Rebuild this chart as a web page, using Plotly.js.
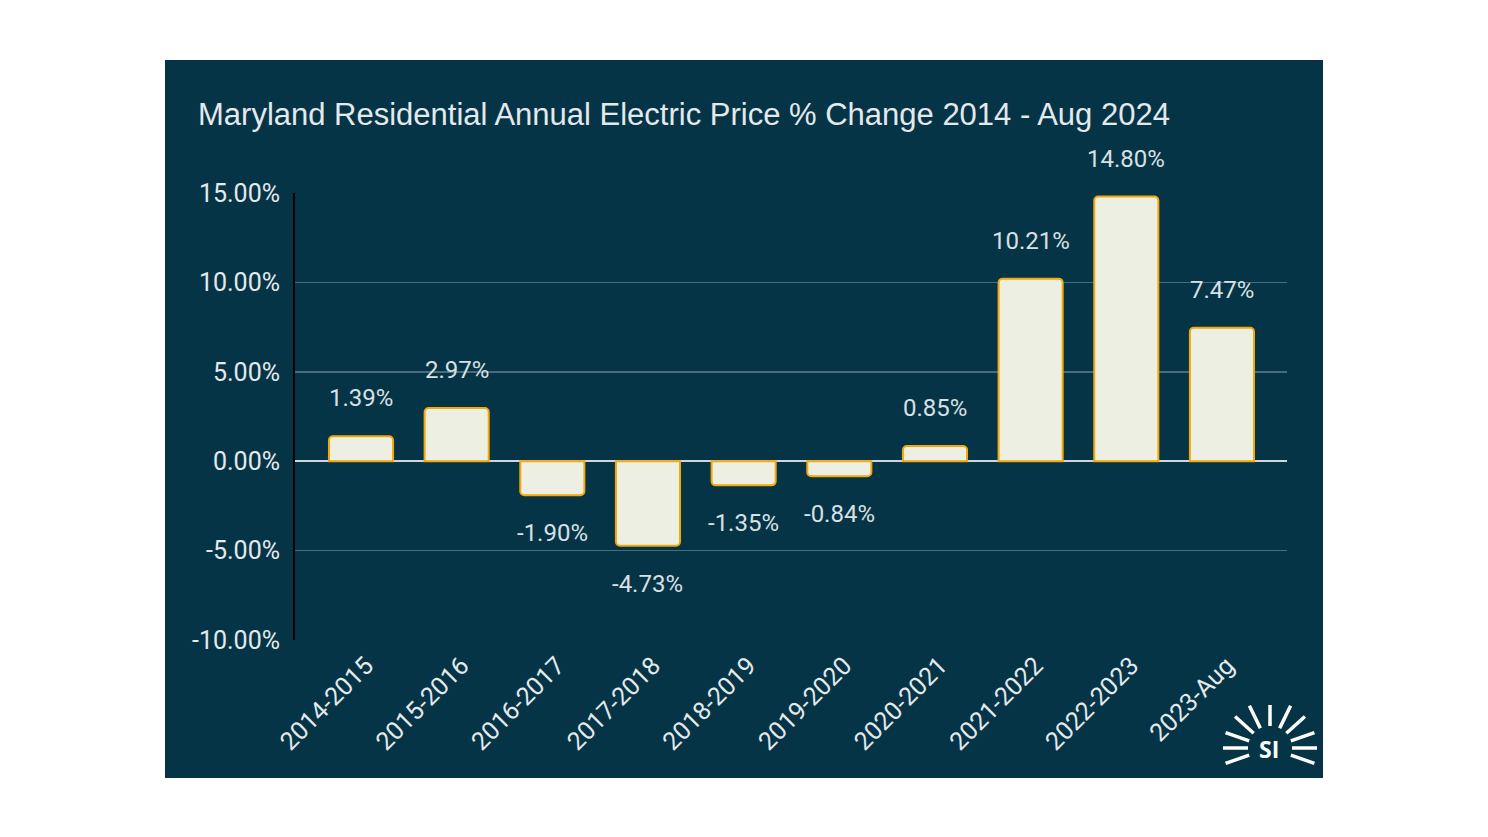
<!DOCTYPE html>
<html>
<head>
<meta charset="utf-8">
<script src="https://cdn.plot.ly/plotly-3.0.1.min.js"></script>
<style>
  html, body { margin: 0; padding: 0; background: #ffffff; width: 1488px; height: 837px; overflow: hidden; }
  #panel { position: absolute; left: 165px; top: 60px; width: 1158px; height: 718px; background: #053447; }
  #chart { width: 1158px; height: 718px; }
</style>
</head>
<body>
<div id="panel"><div id="chart"></div></div>
<script>
// ---- data ----
const categories = ['2014-2015','2015-2016','2016-2017','2017-2018','2018-2019','2019-2020','2020-2021','2021-2022','2022-2023','2023-Aug'];
const pctChange = [1.39, 2.97, -1.90, -4.73, -1.35, -0.84, 0.85, 10.21, 14.80, 7.47];
const valueLabels = ['1.39%','2.97%','-1.90%','-4.73%','-1.35%','-0.84%','0.85%','10.21%','14.80%','7.47%'];
const yTickVals = [-10, -5, 0, 5, 10, 15];
const yTickText = ['-10.00%','-5.00%','0.00%','5.00%','10.00%','15.00%'];
const chartTitle = 'Maryland Residential Annual Electric Price % Change 2014 - Aug 2024';

// ---- layout helpers (plot area inside the panel) ----
const M = {l: 130, r: 36, t: 133, b: 138};
const W = 1158, H = 718;
const PW = W - M.l - M.r, PH = H - M.t - M.b;
// page pixel -> paper coords
const px = x => (x - 165 - M.l) / PW;
const py = y => (H - M.b - (y - 60)) / PH;

const textColor = '#e4e9eb';
const labelColor = '#d9e0e3';

const trace = {
  type: 'bar',
  x: categories,
  y: pctChange,
  width: 0.67,
  marker: { color: '#eeefe3', line: { color: '#f4a708', width: 2 }, cornerradius: 4 },
  hoverinfo: 'skip'
};

const annotations = categories.map((c, i) => ({
  x: c, y: pctChange[i], xref: 'x', yref: 'y',
  text: valueLabels[i], showarrow: false,
  yshift: pctChange[i] >= 0 ? 38 : -38,
  font: { family: 'Roboto', size: 24, color: labelColor }
}));

// logo "SI" with rays
const cx = 1270, cy = 748;
const rayAngles = [90, 116, 138, 161, 180, 199, 64, 42, 19, 0, -19];
const shapes = rayAngles.map(a => {
  const rad = a * Math.PI / 180;
  const r0 = 22, r1 = (a === 90) ? 43 : 47;
  return {
    type: 'line', xref: 'paper', yref: 'paper',
    x0: px(cx + r0 * Math.cos(rad)), y0: py(cy - r0 * Math.sin(rad)),
    x1: px(cx + r1 * Math.cos(rad)), y1: py(cy - r1 * Math.sin(rad)),
    line: { color: '#ffffff', width: 3.5 }
  };
});
annotations.push({
  xref: 'paper', yref: 'paper', x: px(cx - 1), y: py(cy + 1),
  text: '<b>SI</b>', showarrow: false, xanchor: 'center', yanchor: 'middle',
  font: { family: 'Open Sans', size: 23, color: '#ffffff' }
});

const layout = {
  width: W, height: H,
  margin: M,
  paper_bgcolor: '#053447',
  plot_bgcolor: 'rgba(0,0,0,0)',
  showlegend: false,
  title: {
    text: chartTitle,
    xref: 'container', yref: 'container',
    x: 33 / W, xanchor: 'left',
    y: 1 - 54 / H, yanchor: 'middle',
    font: { family: 'Liberation Sans', size: 31, color: textColor }
  },
  xaxis: {
    type: 'category',
    range: [-0.69, 9.68],
    tickangle: -45,
    showgrid: false, showline: false, zeroline: false,
    ticks: '',
    ticklabelstandoff: 5, ticklabelshift: 5,
    tickfont: { family: 'Roboto', size: 25, color: textColor },
    fixedrange: true
  },
  yaxis: {
    range: [-10, 15],
    tickvals: yTickVals, ticktext: yTickText,
    showgrid: true, gridcolor: '#476c7e', gridwidth: 1.5,
    zeroline: true, zerolinecolor: '#cdd8dc', zerolinewidth: 2,
    showline: true, linecolor: '#000000', linewidth: 2,
    ticks: '', ticklabelstandoff: 8,
    tickfont: { family: 'Roboto', size: 25, color: textColor },
    fixedrange: true
  },
  annotations: annotations,
  shapes: shapes
};

Plotly.newPlot('chart', [trace], layout, { displayModeBar: false, staticPlot: true });
</script>
</body>
</html>
